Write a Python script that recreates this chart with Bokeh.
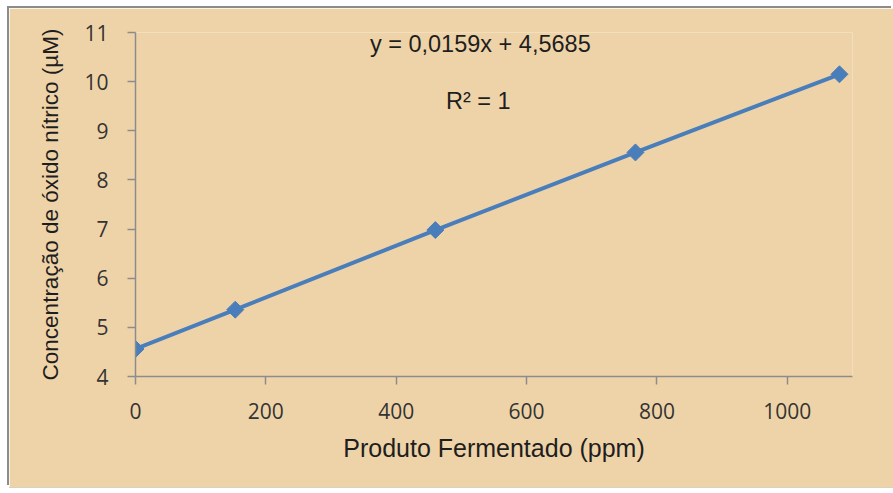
from bokeh.plotting import figure
from bokeh.models import FixedTicker, Label
from bokeh.embed import file_html
from bokeh.resources import INLINE
import math

# Data
produto_ppm = [0, 153, 460, 767, 1080]
oxido_nitrico = [4.56, 5.36, 6.98, 8.56, 10.15]
x_ticks = [0, 200, 400, 600, 800, 1000]
y_ticks = [4, 5, 6, 7, 8, 9, 10, 11]
equation_text = "y = 0,0159x + 4,5685"
r2_text = "R² = 1"

BG = "#EFD3A8"
BLUE = "#4A7EBB"
AXIS = "#8C8C8C"

p = figure(width=884, height=479, output_backend="svg", toolbar_location=None,
           x_range=(0, 1100), y_range=(4, 11),
           min_border_left=126, min_border_right=41, min_border_top=24, min_border_bottom=111,
           background_fill_color=BG, border_fill_color=BG, margin=(8, 0, 6, 9))
p.styles = {"box-shadow": "-2px -2px 0 0 #8C8C8C, 0 1px 0 0 #D8D0C0"}
p.outline_line_color = None
p.xgrid.visible = False
p.ygrid.visible = False

for ax in (p.xaxis[0], p.yaxis[0]):
    ax.axis_line_color = AXIS
    ax.axis_line_width = 1.5
    ax.major_tick_line_color = AXIS
    ax.major_tick_line_width = 1.5
    ax.major_tick_in = 0
    ax.major_tick_out = 8
    ax.minor_tick_line_color = None
    ax.major_label_text_font = "Open Sans"
    ax.major_label_text_font_size = "21px"
    ax.major_label_text_color = "#333333"
    ax.axis_label_text_font = "Liberation Sans"
    ax.axis_label_text_font_style = "normal"
    ax.axis_label_text_color = "#1E1E1E"

p.xaxis.ticker = FixedTicker(ticks=x_ticks)
p.yaxis.ticker = FixedTicker(ticks=y_ticks)
p.xaxis.major_label_standoff = 18
p.yaxis.major_label_standoff = 19
p.xaxis.axis_label = "Produto Fermentado (ppm)"
p.yaxis.axis_label = "Concentração de óxido nítrico (µM)"
p.xaxis.axis_label_text_font_size = "25px"
p.yaxis.axis_label_text_font_size = "22.5px"
p.xaxis.axis_label_standoff = 12
p.yaxis.axis_label_standoff = 18

p.line(produto_ppm, oxido_nitrico, line_color=BLUE, line_width=4)
p.scatter(produto_ppm, oxido_nitrico, marker="square", size=12, angle=math.pi / 4,
          fill_color=BLUE, line_color=BLUE)

p.add_layout(Label(x=529, y=10.77, text=equation_text, text_align="center",
                   text_baseline="middle", text_font="Liberation Sans",
                   text_font_size="23.5px", text_color="#1E1E1E"))
p.add_layout(Label(x=526, y=9.6, text=r2_text, text_align="center",
                   text_baseline="middle", text_font="Liberation Sans",
                   text_font_size="23.5px", text_color="#1E1E1E"))

open("out.html", "w").write(file_html(p, INLINE))
